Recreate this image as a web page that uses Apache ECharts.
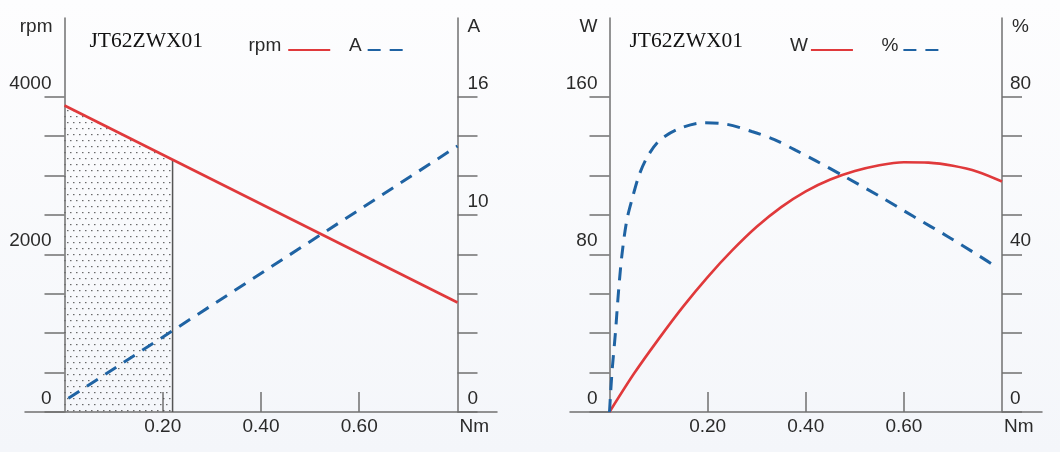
<!DOCTYPE html>
<html>
<head>
<meta charset="utf-8">
<script src="https://cdn.jsdelivr.net/npm/echarts@6/dist/echarts.min.js"></script>
<style>
  html, body { margin: 0; padding: 0; background: #f7f9fc; }
  #chart { width: 1060px; height: 452px; }
</style>
</head>
<body>
<div id="chart"></div>
<script>
// torque axis (Nm)
const torqueTicks = [0.2, 0.4, 0.6];

// left chart: speed & current vs torque
const rpmData = [[0, 3890], [0.8, 1390]];
const ampData = [[0.008, 0.7], [0.8, 13.5]];
const shadeData = [[0, 3890], [0.22, 3200]];
const shadeEdge = [[0.22, 0], [0.22, 3200]];
const rpmTicks = [0, 500, 1000, 1500, 2000, 2500, 3000, 3500, 4000];
const rpmLabels = [0, 2000, 4000];
const ampTicks = [0, 2, 4, 6, 8, 10, 12, 14, 16];
const ampLabels = [0, 10, 16];

// right chart: output power & efficiency vs torque
const powerData = [
  [0, 0], [0.05, 19.5], [0.1, 37], [0.15, 53.5], [0.2, 68.5], [0.25, 82],
  [0.3, 94], [0.35, 104], [0.4, 112], [0.45, 118], [0.5, 122.3],
  [0.55, 125.3], [0.6, 126.8], [0.65, 126.6], [0.7, 125], [0.75, 122], [0.8, 117]
];
const effData = [
  [0, 0], [0.005, 10], [0.012, 20], [0.018, 30], [0.025, 39.5], [0.035, 48.5],
  [0.046, 54], [0.06, 60], [0.076, 64.5], [0.1, 68.7], [0.138, 71.7], [0.19, 73.4],
  [0.24, 73], [0.29, 71.2], [0.335, 69.2], [0.38, 66.4], [0.42, 63.8], [0.48, 59.7],
  [0.55, 54.8], [0.62, 49.6], [0.69, 44.5], [0.755, 39.5], [0.79, 36.7]
];
const wattTicks = [0, 20, 40, 60, 80, 100, 120, 140, 160];
const wattLabels = [0, 80, 160];
const pctTicks = [0, 10, 20, 30, 40, 50, 60, 70, 80];
const pctLabels = [0, 40, 80];

const RED = '#e0393b';
const BLUE = '#1f63a3';
const AXIS = '#707070';
const TXT = '#2a2a2a';
const SANS = '"Liberation Sans", Arial, sans-serif';
const DASH = [13, 9];

// dotted fill for the rated-load region
const dots = document.createElement('canvas');
dots.width = 6;
dots.height = 12;
const dctx = dots.getContext('2d');
dctx.fillStyle = 'rgba(70,70,70,0.8)';
dctx.fillRect(1, 2, 1.5, 1.2);
dctx.fillRect(4, 8, 1.5, 1.2);

const chart = echarts.init(document.getElementById('chart'));

function torqueAxis(gi) {
  return {
    type: 'value', gridIndex: gi, min: 0, max: 0.8, interval: 0.2,
    axisLine: { show: false },
    splitLine: { show: false },
    axisTick: {
      inside: true, length: 20, customValues: torqueTicks,
      lineStyle: { color: AXIS, width: 1.5 }
    },
    axisLabel: {
      customValues: torqueTicks, margin: 5,
      formatter: v => v.toFixed(2),
      fontSize: 19, color: TXT, fontFamily: SANS
    },
    name: 'Nm', nameLocation: 'end', nameGap: 2,
    nameTextStyle: {
      align: 'left', verticalAlign: 'top', padding: [5, 0, 0, 0],
      fontSize: 19, color: TXT, fontFamily: SANS
    }
  };
}

function sideAxis(gi, pos, max, step, ticks, labels, name, margin) {
  const left = pos === 'left';
  return {
    type: 'value', gridIndex: gi, position: pos, min: 0, max: max, interval: step,
    axisLine: { show: true, lineStyle: { color: AXIS, width: 1.5 } },
    axisTick: {
      show: true, inside: false, length: 20, customValues: ticks,
      lineStyle: { color: AXIS, width: 1.5 }
    },
    axisLabel: {
      customValues: labels, margin: margin,
      formatter: v => String(v),
      verticalAlign: 'bottom', padding: [0, 0, 4, 0],
      fontSize: 19, color: TXT, fontFamily: SANS
    },
    splitLine: { show: false },
    name: name, nameLocation: 'end', nameGap: -9,
    nameTextStyle: {
      align: left ? 'right' : 'left', verticalAlign: 'middle',
      padding: left ? [0, 12, 0, 0] : [0, 0, 0, 10],
      fontSize: 19, color: TXT, fontFamily: SANS
    }
  };
}

// long base line under each chart
function baseAxis(gi) {
  return {
    type: 'value', gridIndex: gi, min: 0, max: 1,
    axisLine: { show: true, lineStyle: { color: AXIS, width: 1.5 } },
    axisTick: { show: false }, axisLabel: { show: false }, splitLine: { show: false }
  };
}

function legendItem(name, left, top, gap) {
  return {
    data: [name], left: left, top: top, align: 'right', padding: 0,
    itemWidth: 42, itemHeight: 12, itemGap: 0, selectedMode: false,
    itemStyle: { opacity: 0 },
    formatter: '{t|{name}}',
    textStyle: {
      rich: { t: { fontSize: 19, color: TXT, fontFamily: SANS, padding: [0, gap, 9, 0] } }
    }
  };
}

const titleStyle = { fontFamily: '"Liberation Serif", "Times New Roman", serif', fontSize: 21.5, fontWeight: 'normal', color: '#111' };

const option = {
  backgroundColor: {
    type: 'linear', x: 0, y: 0, x2: 0, y2: 1,
    colorStops: [{ offset: 0, color: '#fdfdfe' }, { offset: 1, color: '#f4f6fa' }]
  },
  animation: false,
  title: [
    { text: 'JT62ZWX01', left: 89.5, top: 30, padding: 0, textStyle: titleStyle },
    { text: 'JT62ZWX01', left: 629.5, top: 30, padding: 0, textStyle: titleStyle }
  ],
  legend: [
    legendItem('rpm', 248.5, 36, 2),
    legendItem('A', 349, 36, 1),
    legendItem('W', 790, 36, -2),
    legendItem('%', 881.5, 36, 0)
  ],
  grid: [
    { left: 64.5, top: 18, width: 393, height: 394, outerBoundsMode: 'none' },
    { left: 609.5, top: 18, width: 392.5, height: 394, outerBoundsMode: 'none' },
    { left: 25, top: 18, width: 472, height: 394, outerBoundsMode: 'none' },
    { left: 570, top: 18, width: 472, height: 394, outerBoundsMode: 'none' }
  ],
  xAxis: [torqueAxis(0), torqueAxis(1), baseAxis(2), baseAxis(3)],
  yAxis: [
    sideAxis(0, 'left', 5000, 500, rpmTicks, rpmLabels, 'rpm', 13),
    sideAxis(0, 'right', 20, 2, ampTicks, ampLabels, 'A', 10),
    sideAxis(1, 'left', 200, 20, wattTicks, wattLabels, 'W', 12),
    sideAxis(1, 'right', 100, 10, pctTicks, pctLabels, '%', 8),
    { type: 'value', gridIndex: 2, show: false },
    { type: 'value', gridIndex: 3, show: false }
  ],
  series: [
    {
      type: 'line', xAxisIndex: 0, yAxisIndex: 0, data: shadeData, symbol: 'none', silent: true,
      lineStyle: { width: 0 }, areaStyle: { color: { image: dots, repeat: 'repeat' }, opacity: 1 }, z: 1
    },
    {
      type: 'line', xAxisIndex: 0, yAxisIndex: 0, data: shadeEdge, symbol: 'none', silent: true,
      lineStyle: { color: '#555', width: 1.5 }, z: 2
    },
    {
      name: 'rpm', type: 'line', xAxisIndex: 0, yAxisIndex: 0, data: rpmData, symbol: 'none',
      lineStyle: { color: RED, width: 2.6 }, itemStyle: { color: RED }, z: 3
    },
    {
      name: 'A', type: 'line', xAxisIndex: 0, yAxisIndex: 1, data: ampData, symbol: 'none',
      lineStyle: { color: BLUE, width: 3, type: DASH }, itemStyle: { color: BLUE }, z: 3
    },
    {
      name: 'W', type: 'line', xAxisIndex: 1, yAxisIndex: 2, data: powerData, symbol: 'none', smooth: 0.3,
      lineStyle: { color: RED, width: 2.6 }, itemStyle: { color: RED }, z: 3
    },
    {
      name: '%', type: 'line', xAxisIndex: 1, yAxisIndex: 3, data: effData, symbol: 'none', smooth: 0.3,
      lineStyle: { color: BLUE, width: 3, type: DASH }, itemStyle: { color: BLUE }, z: 3
    }
  ]
};

chart.setOption(option);
</script>
</body>
</html>
